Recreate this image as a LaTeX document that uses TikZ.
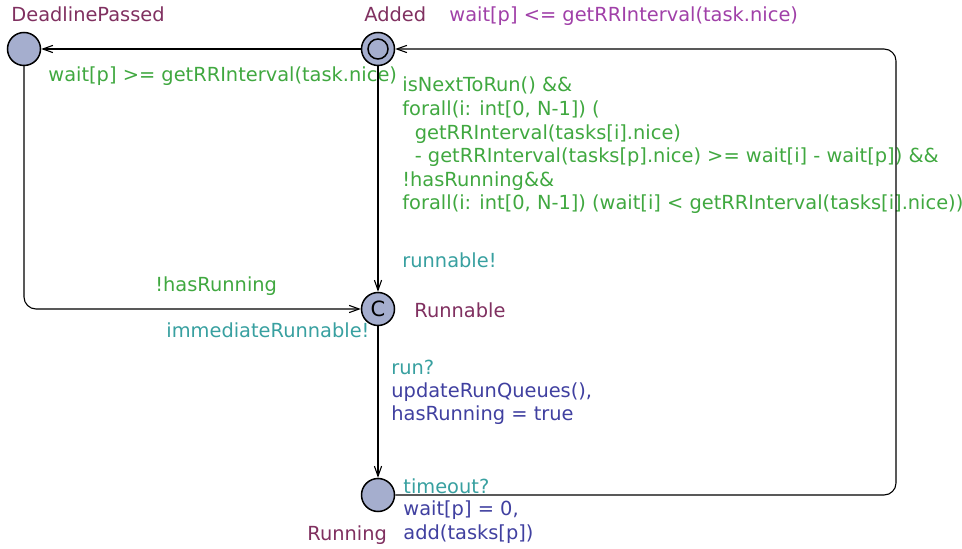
\documentclass[tikz,border=0pt]{standalone}
\usepackage{fontspec}
\setmainfont{DejaVu Sans}
\usetikzlibrary{positioning,arrows.meta}
\definecolor{locfill}{RGB}{165,174,206}
\definecolor{locname}{RGB}{128,48,96}
\definecolor{invcol}{RGB}{160,64,168}
\definecolor{guardcol}{RGB}{64,168,64}
\definecolor{synccol}{RGB}{56,160,160}
\definecolor{updcol}{RGB}{64,64,160}
\tikzset{
    location/.style={%
        draw, circle, fill=locfill,
        line width=0.75pt,
        minimum size=16.5pt,
        inner sep=0pt
        },
    initloc/.style={%
        location,
        path picture={\draw[line width=0.75pt] (path picture bounding box.center) circle (5pt);}
        },
    lbl/.style={anchor=base west, inner sep=0pt, align=left,
        font=\fontsize{9.7pt}{11.8pt}\selectfont},
    locname/.style={lbl, text=locname},
    invariant/.style={lbl, text=invcol},
    guard/.style={lbl, text=guardcol},
    sync/.style={lbl, text=synccol},
    update/.style={lbl, text=updcol},
    transition/.style={-{Straight Barb[length=5pt,width=3.6pt]}, line width=0.55pt, rounded corners=6pt}
}

\begin{document}
\begin{tikzpicture}[x=0.5pt, y=-0.5pt]
\useasboundingbox (0,0) rectangle (962,549);

% locations
\node[location] (deadline) at (24,49) {};
\node[initloc] (added) at (378,49) {};
\node[location, font=\fontsize{10.5pt}{11.8pt}\selectfont] (runnable) at (378,309) {C};
\node[location] (running) at (378,495) {};

\node[locname] (deadlineName) at (11,22) {DeadlinePassed};
\node[locname] (addedName) at (364,22) {Added};
\node[invariant] (addedInv) at (449,22) {wait[p] <= getRRInterval(task.nice)};
\node[locname] (runnableName) at (414,318) {Runnable};
\node[locname] (runningName) at (307,540) {Running};

% transitions (multi-line labels sit on their last baseline)
\draw[transition] (added) -- (deadline);
\node[guard] (deadlineGuard) at (48,82) {wait[p] >= getRRInterval(task.nice)};

\draw[transition] (deadline) |- (runnable);
\node[guard] (immGuard) at (155,292) {!hasRunning};
\node[sync] (immSync) at (166,338) {immediateRunnable!};

\draw[transition] (added) -- (runnable);
\node[guard] (runnableGuard) at (402,210) {isNextToRun() \&\&\\
forall(i: int[0, N-1]) (\\
\hspace*{6.2pt}getRRInterval(tasks[i].nice)\\
\hspace*{6.2pt}- getRRInterval(tasks[p].nice) >= wait[i] - wait[p]) \&\&\\
!hasRunning\&\&\\
forall(i: int[0, N-1]) (wait[i] < getRRInterval(tasks[i].nice))};
\node[sync] (runnableSync) at (402,268) {runnable!};

\draw[transition] (runnable) -- (running);
\node[sync] (runSync) at (391,375) {run?};
\node[update] (runUpdate) at (391,421) {updateRunQueues(),\\hasRunning = true};

\coordinate (backCorner) at (896,495);
\draw[transition] (running) -- (backCorner) |- (added);
\node[sync] (timeoutSync) at (403,493) {timeout?};
\node[update] (timeoutUpdate) at (403,539) {wait[p] = 0,\\add(tasks[p])};

\end{tikzpicture}
\end{document}
